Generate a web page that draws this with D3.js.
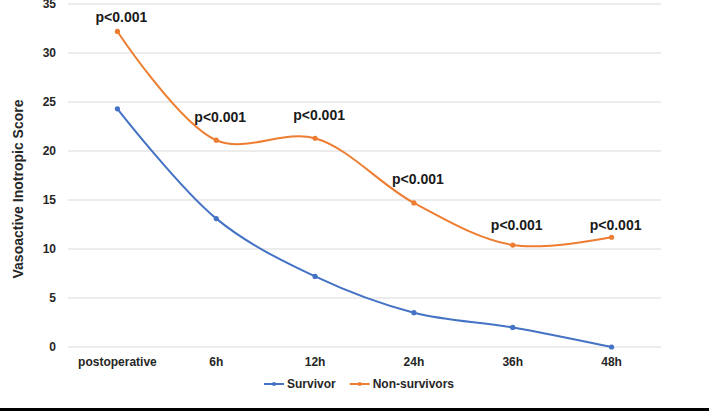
<!DOCTYPE html>
<html>
<head>
<meta charset="utf-8">
<script src="https://cdn.jsdelivr.net/npm/d3@7"></script>
<style>
  html, body { margin: 0; padding: 0; background: #fff; }
  svg { display: block; font-family: "Liberation Sans", Arial, sans-serif; }
</style>
</head>
<body>
<div id="chart"></div>
<script>
// chart data
const timepoints = ['postoperative', '6h', '12h', '24h', '36h', '48h'];
const survivor = [24.3, 13.1, 7.2, 3.5, 2.0, 0.0];
const nonSurvivors = [32.2, 21.1, 21.3, 14.7, 10.4, 11.2];
const pLabels = ['p<0.001', 'p<0.001', 'p<0.001', 'p<0.001', 'p<0.001', 'p<0.001'];
// where each p-value label sits, in score units
const pLabelLevels = [33.7, 23.5, 23.7, 17.1, 12.4, 12.4];
const yTicks = [0, 5, 10, 15, 20, 25, 30, 35];

const W = 709, H = 411;
const margin = { top: 4, right: 48, bottom: 64, left: 68 };
const innerW = W - margin.left - margin.right;
const innerH = 347 - margin.top;

const svg = d3.select('#chart')
  .append('svg')
  .attr('width', W)
  .attr('height', H);

// black strip at the very bottom
svg.append('rect')
  .attr('x', 0).attr('y', 408).attr('width', W).attr('height', 3)
  .attr('fill', '#000');

const g = svg.append('g')
  .attr('transform', `translate(${margin.left},${margin.top})`);

const x = d3.scaleBand()
  .domain(timepoints)
  .range([0, innerW]);

const y = d3.scaleLinear()
  .domain([0, 35])
  .range([innerH, 0]);

const cx = d => x(d) + x.bandwidth() / 2;

// gridlines
g.selectAll('.grid')
  .data(yTicks)
  .enter()
  .append('line')
  .attr('x1', 0).attr('x2', innerW)
  .attr('y1', d => y(d)).attr('y2', d => y(d))
  .attr('stroke', '#d9d9d9')
  .attr('stroke-width', 1);

// y tick labels (top one is clipped by the frame, as in the original)
g.selectAll('.ytick')
  .data(yTicks)
  .enter()
  .append('text')
  .attr('x', -12)
  .attr('y', d => y(d))
  .attr('dy', '0.35em')
  .attr('text-anchor', 'end')
  .style('font-size', '12px')
  .style('font-weight', 'bold')
  .attr('fill', '#262626')
  .text(d => d);

// x tick labels
g.selectAll('.xtick')
  .data(timepoints)
  .enter()
  .append('text')
  .attr('x', d => cx(d))
  .attr('y', innerH + 19)
  .attr('text-anchor', 'middle')
  .style('font-size', '12px')
  .style('font-weight', 'bold')
  .attr('fill', '#262626')
  .text(d => d);

// y axis title
svg.append('text')
  .attr('transform', 'translate(23,189) rotate(-90)')
  .attr('text-anchor', 'middle')
  .style('font-size', '14px')
  .style('font-weight', 'bold')
  .attr('fill', '#262626')
  .text('Vasoactive Inotropic Score');

const series = [
  { name: 'Survivor', values: survivor, color: '#4472C4' },
  { name: 'Non-survivors', values: nonSurvivors, color: '#ED7D31' }
];

const line = d3.line()
  .x((d, i) => cx(timepoints[i]))
  .y(d => y(d))
  .curve(d3.curveCatmullRom.alpha(0.5));

series.forEach(s => {
  g.append('path')
    .datum(s.values)
    .attr('d', line)
    .attr('fill', 'none')
    .attr('stroke', s.color)
    .attr('stroke-width', 2);

  g.selectAll(null)
    .data(s.values)
    .enter()
    .append('circle')
    .attr('cx', (d, i) => cx(timepoints[i]))
    .attr('cy', d => y(d))
    .attr('r', 2.6)
    .attr('fill', s.color);
});

// p-value annotations
g.selectAll('.plabel')
  .data(pLabels)
  .enter()
  .append('text')
  .attr('x', (d, i) => cx(timepoints[i]) + 4)
  .attr('y', (d, i) => y(pLabelLevels[i]))
  .attr('dy', '0.35em')
  .attr('text-anchor', 'middle')
  .style('font-size', '14px')
  .style('font-weight', 'bold')
  .attr('fill', '#1a1a1a')
  .text(d => d);

// legend
const legend = svg.append('g')
  .attr('transform', 'translate(264,384)');

let offset = 0;
series.forEach(s => {
  const item = legend.append('g').attr('transform', `translate(${offset},0)`);
  item.append('line')
    .attr('x1', 0).attr('x2', 20)
    .attr('y1', 0).attr('y2', 0)
    .attr('stroke', s.color)
    .attr('stroke-width', 2);
  item.append('circle')
    .attr('cx', 10).attr('cy', 0).attr('r', 2)
    .attr('fill', s.color);
  const t = item.append('text')
    .attr('x', 23)
    .attr('y', 0)
    .attr('dy', '0.35em')
    .style('font-size', '12px')
    .style('font-weight', 'bold')
    .attr('fill', '#262626')
    .text(s.name);
  offset += 23 + t.node().getComputedTextLength() + 14;
});
</script>
</body>
</html>
